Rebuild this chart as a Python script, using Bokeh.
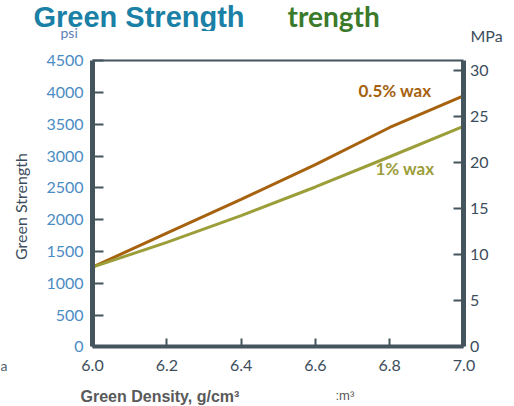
import math
from bokeh.plotting import figure
from bokeh.models import Range1d, LinearAxis, FixedTicker, Label, BoxAnnotation
from bokeh.embed import file_html
from bokeh.resources import INLINE

# ---- data ----
density = [6.0, 6.2, 6.4, 6.6, 6.8, 7.0]
wax_05 = [1255, 1790, 2320, 2865, 3450, 3950]   # psi, 0.5% wax
wax_1 = [1255, 1645, 2065, 2515, 2990, 3470]    # psi, 1% wax
x_ticks = [6.0, 6.2, 6.4, 6.6, 6.8, 7.0]
psi_ticks = [0, 500, 1000, 1500, 2000, 2500, 3000, 3500, 4000, 4500]
mpa_ticks = [0, 5, 10, 15, 20, 25, 30]
PSI_PER_MPA = 145.038

W, H = 514, 406
# view ranges: the frame covers the whole canvas, plot box is drawn by fixed axes
X0, X1 = 5.75235, 7.13594
Y0, Y1 = -935.2, 5445.9

AXIS = "#44555e"
DARK = "#3c4d5c"
C05 = "#a6620e"
C1 = "#9c9e3a"


def sx(px):
    return X0 + px * (X1 - X0) / W


def sy(py):
    return Y1 - py * (Y1 - Y0) / H


p = figure(width=W, height=H, x_range=Range1d(X0, X1), y_range=Range1d(Y0, Y1),
           output_backend="svg", toolbar_location=None,
           x_axis_location=None, y_axis_location=None,
           min_border_left=0, min_border_right=0, min_border_top=0, min_border_bottom=0)
p.title.visible = False
p.xgrid.visible = False
p.ygrid.visible = False
p.outline_line_color = None
p.background_fill_color = "white"
p.border_fill_color = "white"
p.extra_y_ranges = {"mpa": Range1d(Y0 / PSI_PER_MPA, Y1 / PSI_PER_MPA)}

xax = LinearAxis(fixed_location=psi_ticks[0], bounds=(x_ticks[0], x_ticks[-1]),
                 ticker=FixedTicker(ticks=x_ticks))
yax = LinearAxis(fixed_location=x_ticks[0], bounds=(psi_ticks[0], psi_ticks[-1]),
                 ticker=FixedTicker(ticks=psi_ticks))
right = LinearAxis(y_range_name="mpa", fixed_location=x_ticks[-1],
                   bounds=(0, psi_ticks[-1] / PSI_PER_MPA), ticker=FixedTicker(ticks=mpa_ticks))
top = LinearAxis(fixed_location=psi_ticks[-1], bounds=(x_ticks[0], x_ticks[-1]),
                 ticker=FixedTicker(ticks=[]))

for ax in (xax, yax, right, top):
    ax.axis_line_color = AXIS
    ax.axis_line_width = 5
    ax.major_tick_line_color = AXIS
    ax.major_tick_line_width = 2
    ax.major_tick_out = 0
    ax.minor_tick_line_color = None
    ax.major_label_text_font = "Lato"
    ax.major_label_text_font_size = "16px"
    ax.major_label_text_color = DARK

xax.axis_line_width = 4
xax.major_tick_in = 8
xax.major_label_standoff = 13
xax.major_label_overrides = {t: f"{t:.1f}" for t in x_ticks}

yax.major_tick_in = 11
yax.major_label_standoff = 9
yax.major_label_text_color = "#4a8cc4"

right.major_tick_in = 10
right.major_label_standoff = 6

top.axis_line_width = 2

p.add_layout(xax, "below")
p.add_layout(yax, "left")
p.add_layout(right, "right")
p.add_layout(top, "above")

p.line(density, wax_05, line_color=C05, line_width=3)
p.line(density, wax_1, line_color=C1, line_width=3)


def lab(px, baseline, text, size, **kw):
    # Label anchors at the text bottom; shift by the font's descent
    p.add_layout(Label(x=sx(px), y=sy(baseline + 0.2 * size), text=text,
                       text_font_size=f"{size}px", **kw))


lab(33, 27, "Green Strength", 29, text_font="Liberation Sans", text_font_style="bold",
    text_color="#1a80a6")
# the reference cuts the title's descenders
p.add_layout(BoxAnnotation(left=sx(130), right=sx(250), top=sy(30.5), bottom=sy(37),
                           fill_color="white", fill_alpha=1, line_color=None, level="overlay"))
lab(287, 27, "trength", 28, text_font="Lato", text_font_style="bold", text_color="#3b7a2b")
lab(60, 38, "psi", 14, text_font="Lato", text_color="#5b7fb8")
lab(470, 41, "MPa", 16, text_font="Lato", text_color=DARK)
lab(358, 97, "0.5% wax", 17, text_font="Lato", text_font_style="bold", text_color=C05)
lab(375, 175, "1% wax", 17, text_font="Lato", text_font_style="bold", text_color=C1)
p.add_layout(Label(x=sx(20), y=sy(206), text="Green Strength", text_font="Lato",
                   text_font_size="16px", text_color=DARK, angle=math.pi / 2,
                   text_align="center", text_baseline="middle"))
lab(80, 401, "Green Density, g/cm³", 16, text_font="Liberation Sans", text_font_style="bold",
    text_color="#595959")
lab(335, 400, ":m³", 13, text_font="Liberation Sans", text_color="#595959")
lab(0, 371, "a", 14, text_font="Lato", text_color="#4f5f6f")

open("out.html", "w").write(file_html(p, INLINE))
